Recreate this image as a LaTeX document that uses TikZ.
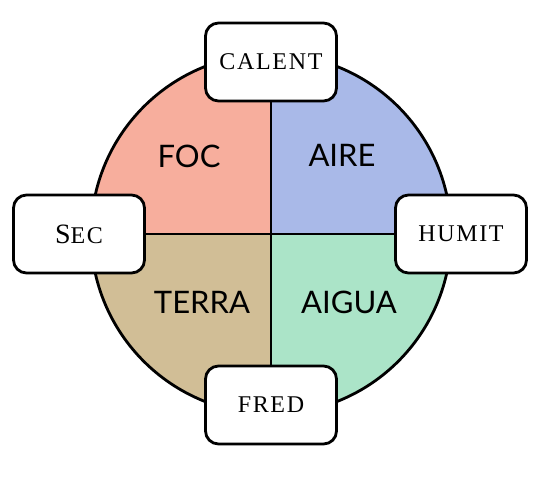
\documentclass[tikz,border=0pt]{standalone}
\usepackage{fontspec}
\newfontfamily\elemfont{Lato}
\newfontfamily\qualfont[LetterSpace=7]{Liberation Serif}
\usetikzlibrary{math}
\usetikzlibrary{backgrounds}
\usetikzlibrary{shadows}
\definecolor{cfoc}{rgb}{0.969, 0.682, 0.616}
\definecolor{caire}{rgb}{0.663, 0.725, 0.910}
\definecolor{cterra}{rgb}{0.820, 0.745, 0.588}
\definecolor{caigua}{rgb}{0.671, 0.894, 0.784}

\begin{document}
\begin{tikzpicture}[x=1pt, y=-1pt,
    quality/.style={draw, line width=2.8pt, fill=white, rounded corners=13pt,
      minimum width=131pt, minimum height=78pt,
      font=\qualfont\fontsize{24}{28}\selectfont,
      drop shadow={opacity=0.25, shadow xshift=1pt, shadow yshift=-1pt}},
    element/.style={font=\elemfont\fontsize{31}{36}\selectfont}]
  \tikzmath{
    \cx = 271;
    \cy = 234;
    \r = 180;
  }
  \useasboundingbox (0,0) rectangle (551,480);

  % qualities
  \node[quality] (calent) at (\cx, 62) {CALENT};
  \node[quality] (fred) at (\cx, 405) {FRED};
  \node[quality] (sec) at (79, \cy) {{\fontsize{28}{32}\selectfont S}EC};
  \node[quality] (humit) at (461, \cy) {HUMIT};

  % elements
  \node[element] (foc) at (189, 156) {FOC};
  \node[element] (aire) at (342, 155) {AIRE};
  \node[element] (terra) at (202, 302) {TERRA};
  \node[element] (aigua) at (349, 302) {AIGUA};

  % circle and cross
  \begin{scope}[on background layer]
    \begin{scope}
      \clip (\cx, \cy) circle[radius=\r pt];
      \fill[cfoc] (\cx, \cy) rectangle ++(-\r, -\r);
      \fill[caire] (\cx, \cy) rectangle ++(\r, -\r);
      \fill[cterra] (\cx, \cy) rectangle ++(-\r, \r);
      \fill[caigua] (\cx, \cy) rectangle ++(\r, \r);
    \end{scope}
    \draw[line width=2.8pt] (\cx, \cy) circle[radius=\r pt];
    \draw[line width=2.8pt] (calent) -- (fred);
    \draw[line width=2.8pt] (sec) -- (humit);
  \end{scope}
\end{tikzpicture}
\end{document}
